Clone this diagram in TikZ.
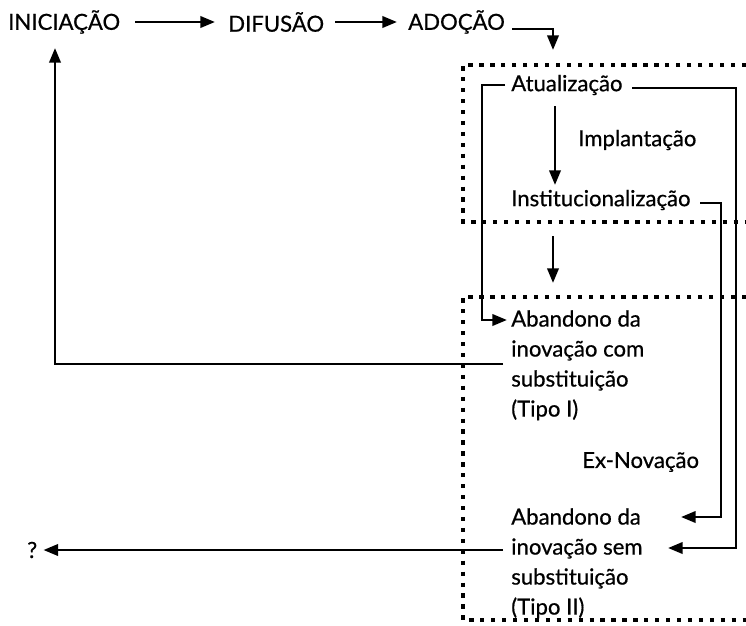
\documentclass[tikz,border=0pt]{standalone}
\usepackage{fontspec}
\setmainfont{Lato}[FakeBold=0.6]
\usetikzlibrary{arrows.meta,calc}
\begin{document}
\begin{tikzpicture}[x=0.75pt,y=-0.75pt,
  font=\fontsize{16.6}{22.5}\selectfont,
  txt/.style={inner sep=0pt, anchor=west},
  blk/.style={inner sep=0pt, anchor=north west, align=left},
  conn/.style={line width=2pt, -{Triangle[length=11pt,width=8.5pt]}},
  dotbox/.style={line width=2.8pt, dash pattern=on 3.2pt off 5pt}]
\useasboundingbox (0,0) rectangle (746,625);
% texts
\node[txt] (ini) at (8,22) {INICIAÇÃO};
\node[txt] (dif) at (228,22) {DIFUSÃO};
\node[txt] (ado) at (408,22) {ADOÇÃO};
\node[txt] (atu) at (511,85) {Atualização};
\node[txt] (imp) at (578,140) {Implantação};
\node[txt] (ins) at (511,200) {Institucionalização};
\node[blk] (ab1) at (511,310) {Abandono da\\inovação com\\substituição\\(Tipo I)};
\node[txt] (exn) at (582,462) {Ex-Novação};
\node[blk] (ab2) at (511,508) {Abandono da\\inovação sem\\substituição\\(Tipo II)};
\node[txt] (q) at (27,550) {?};
% dotted boxes
\draw[dotbox] (746,65) -- (463,65) -- (463,222) -- (746,222);
\draw[dotbox] (746,297) -- (463,297) -- (463,620) -- (746,620);
% connectors
\draw[conn] ($(ini.west)+(127,0)$) -- ($(dif.west)+(-13,0)$);
\draw[conn] ($(dif.west)+(107,0)$) -- ($(ado.west)+(-11,0)$);
\draw[conn] ($(ado.east)+(7,7)$) -| ($(atu.west)+(42,-35)$);
\draw[conn] ($(atu.west)+(44,21)$) -- ($(ins.west)+(44,-15)$);
\draw[conn] ($(ins.west)+(42,36)$) -- ($(ab1.north west)+(42,-27)$);
\draw[conn] ($(atu.west)+(-6,0)$) -| ($(ab1.north west)+(-29,10)$) -- ($(ab1.north west)+(-4,10)$);
\draw[conn] ($(atu.west)+(121,3)$) -| ($(ab2.north west)+(225,40)$) -- ($(ab2.north west)+(157,40)$);
\draw[conn] ($(ins.west)+(189,3)$) -| ($(ab2.north west)+(210,9)$) -- ($(ab2.north west)+(170,9)$);
\draw[conn] ($(ab1.north west)+(-8,54)$) -| ($(ini.west)+(47,26)$);
\draw[conn] ($(ab2.north west)+(-8,42)$) -- ($(q.east)+(6,0)$);
\end{tikzpicture}
\end{document}
